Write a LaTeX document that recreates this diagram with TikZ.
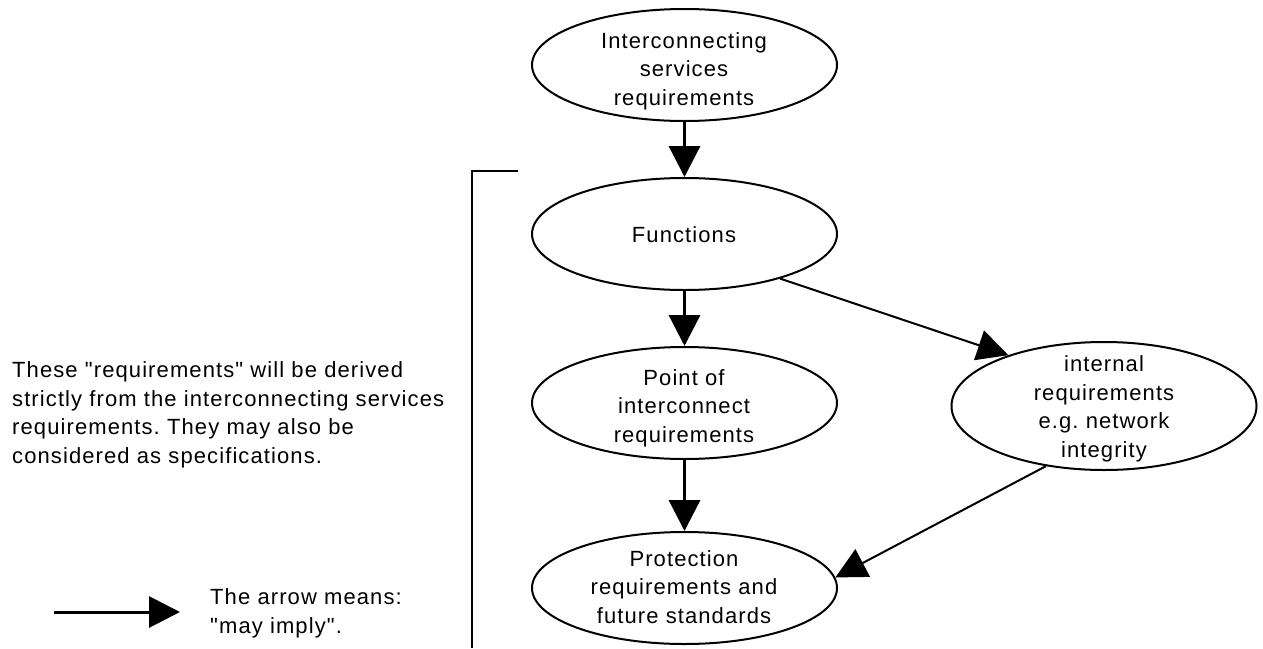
\documentclass[tikz,border=0pt]{standalone}
\usepackage{fontspec}
\setmainfont{Liberation Sans}[LetterSpace=5, Ligatures=TeXOff]
\frenchspacing
\usetikzlibrary{shapes.geometric,arrows.meta}
\begin{document}
\begin{tikzpicture}[x=1pt,y=-1pt,
  txt/.style={font=\fontsize{22}{28.5}\selectfont, inner sep=0pt},
  etxt/.style={txt, align=center, anchor=base},
  ebox/.style={ellipse, draw, line width=2pt, minimum width=305pt,
    minimum height=112pt, inner sep=0pt},
  varrow/.style={line width=3.3pt, -{Triangle[length=31pt,width=31pt]}},
  darrow/.style={line width=2pt, -{Triangle[length=31pt,width=31pt]}},
  bracket/.style={line width=2pt}]
\useasboundingbox (0,0) rectangle (1263,648);

% ellipses
\node[ebox] (isr) at (684.5,65) {};
\node[ebox] (fun) at (684.5,234) {};
\node[ebox] (poi) at (684.5,403) {};
\node[ebox] (pro) at (684.5,588) {};
\node[ebox, minimum height=128pt] (int) at (1104,406) {};

% texts (anchored at the baseline of the last line)
\node[etxt] (isr-t) at (684,105) {Interconnecting\\services\\requirements};
\node[etxt] (fun-t) at (684,242) {Functions};
\node[etxt] (poi-t) at (684,442) {Point of\\interconnect\\requirements};
\node[etxt] (pro-t) at (684,623) {Protection\\requirements and\\future standards};
\node[etxt] (int-t) at (1104,457) {internal\\requirements\\e.g. network\\integrity};

% connectors
\draw[varrow] (isr) -- (fun);
\draw[varrow] (fun) -- (poi);
\draw[varrow] (poi) -- (pro);
\draw[darrow] (fun.-25.4) -- (int.152);
\draw[darrow] (int.226) -- (pro.4);

% bracket
\coordinate (b1) at (518,171);
\coordinate (b2) at (472,171);
\coordinate (b3) at (472,648);
\draw[bracket] (b1) -- (b2) -- (b3);

% note
\node[txt, anchor=base west, align=left] (note) at (12,463)
  {These "requirements" will be derived\\strictly from the interconnecting services\\requirements. They may also be\\considered as specifications.};

% legend
\coordinate (l1) at (54,612);
\coordinate (l2) at (180,612);
\draw[varrow, line width=3pt] (l1) -- (l2);
\node[txt, anchor=base west, align=left] (legend) at (210,633)
  {The arrow means:\\"may imply".};
\end{tikzpicture}
\end{document}
